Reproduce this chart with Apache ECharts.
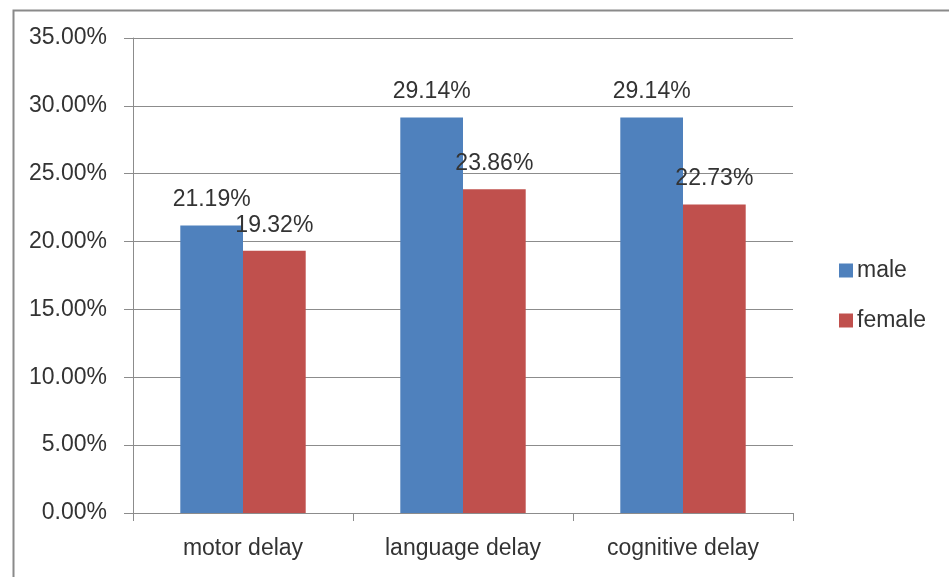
<!DOCTYPE html>
<html><head><meta charset="utf-8">
<script src="https://cdn.jsdelivr.net/npm/echarts@6/dist/echarts.min.js"></script>
<style>html,body{margin:0;padding:0;background:#fff}#c{width:949px;height:577px}</style>
</head><body><div id="c"></div>
<script>
const categories = ['motor delay', 'language delay', 'cognitive delay'];
const maleValues = [21.19, 29.14, 29.14];
const femaleValues = [19.32, 23.86, 22.73];
const seriesNames = ['male', 'female'];

const chart = echarts.init(document.getElementById('c'));
const font = 'Liberation Sans';
const txt = '#333';
const lbl = {
  show: true, position: 'top', distance: 14,
  fontFamily: font, fontSize: 23, color: txt,
  formatter: p => p.value.toFixed(2) + '%'
};
chart.setOption({
  animation: false,
  graphic: [{
    type: 'rect', left: 11, top: 8, silent: true,
    shape: {width: 960, height: 568},
    style: {fill: 'none', stroke: '#8a8a8a', lineWidth: 2}
  }],
  grid: {left: 133, right: 156, top: 38, bottom: 64},
  legend: {
    orient: 'vertical', left: 834, top: 254,
    itemWidth: 14, itemHeight: 14, itemGap: 27, icon: 'rect',
    textStyle: {fontFamily: font, fontSize: 23, color: txt, padding: [0, 0, 0, -1]},
    data: seriesNames
  },
  xAxis: {
    type: 'category', data: categories,
    axisLine: {lineStyle: {color: '#8c8c8c', width: 1}},
    axisTick: {show: true, length: 8, lineStyle: {color: '#8c8c8c'}},
    axisLabel: {fontFamily: font, fontSize: 23, color: txt, margin: 24}
  },
  yAxis: {
    type: 'value', min: 0, max: 35, interval: 5,
    axisLine: {show: true, lineStyle: {color: '#8c8c8c', width: 1}},
    axisTick: {show: true, length: 9, lineStyle: {color: '#8c8c8c'}},
    splitLine: {lineStyle: {color: '#8c8c8c', width: 1}},
    axisLabel: {fontFamily: font, fontSize: 23, color: txt, margin: 26,
      formatter: v => v.toFixed(2) + '%'}
  },
  series: [
    {name: seriesNames[0], type: 'bar', data: maleValues, barGap: '0%', barCategoryGap: '43%',
     itemStyle: {color: '#4F81BD'}, label: lbl},
    {name: seriesNames[1], type: 'bar', data: femaleValues, barGap: '0%', barCategoryGap: '43%',
     itemStyle: {color: '#C0504D'}, label: lbl}
  ]
});
</script></body></html>
